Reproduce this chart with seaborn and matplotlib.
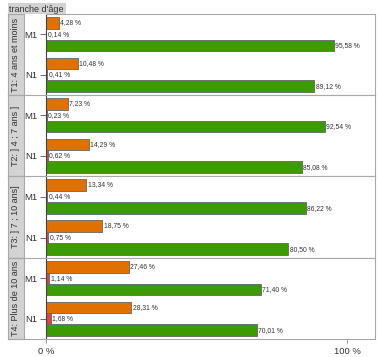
import matplotlib
matplotlib.use("Agg")
import matplotlib.pyplot as plt
import seaborn as sns
import pandas as pd

sns.set_theme(style="white")
plt.rcParams['font.family'] = ['Liberation Sans', 'DejaVu Sans']

tranches = ["T1: 4 ans et moins", "T2: ] 4 ; 7 ans ]", "T3: ] 7 ; 10 ans]", "T4: Plus de 10 ans"]
profils = ["M1", "N1"]
series = ["Série A", "Série B", "Série C"]
colors = ["#E07000", "#E8413C", "#3C9B00"]

serie_a = [[4.28, 10.48], [7.23, 14.29], [13.34, 18.75], [27.46, 28.31]]
serie_b = [[0.14, 0.41], [0.23, 0.62], [0.44, 0.75], [1.14, 1.68]]
serie_c = [[95.58, 89.12], [92.54, 85.08], [86.22, 80.50], [71.40, 70.01]]
header = "tranche d'âge"

rows = []
for ti, t in enumerate(tranches):
    for pi, p in enumerate(profils):
        for s, vals in zip(series, [serie_a, serie_b, serie_c]):
            rows.append({"tranche": t, "profil": p, "serie": s, "valeur": vals[ti][pi]})
df = pd.DataFrame(rows)

W, H = 380, 357
fig = plt.figure(figsize=(W / 100, H / 100), dpi=100)

def fx(px):
    return px / W

def fy(py):
    return 1 - py / H

tops = [14, 95, 176, 258]
bots = [95, 176, 258, 339]
left, right = 46, 375

def fmt(v):
    return f"{v:.2f}".replace(".", ",") + " %"

frame_col = "#a8a8a8"
for i, t in enumerate(tranches):
    ax = fig.add_axes([fx(left), fy(bots[i]), fx(right - left), (bots[i] - tops[i]) / H])
    sub = df[df["tranche"] == t]
    sns.barplot(data=sub, y="profil", x="valeur", hue="serie", orient="h",
                order=profils, hue_order=series, palette=colors, width=0.85,
                edgecolor="#666666", linewidth=0.6, ax=ax, legend=False,
                saturation=1)
    for c, s in zip(ax.containers, series):
        vals = sub[sub["serie"] == s].set_index("profil").loc[profils, "valeur"].tolist()
        ax.bar_label(c, labels=[fmt(v) for v in vals], padding=1, fontsize=4.9, color="#333333")
    ax.set_xlim(0, (right - left) / 3.01)
    ax.set_ylim(1.5, -0.5)
    ax.set_xlabel("")
    ax.set_ylabel("")
    ax.set_yticks([0, 1])
    ax.set_yticklabels(profils, fontsize=6.8, color="#333333")
    ax.tick_params(axis="y", length=4, width=0.6, color="#555555", pad=2, left=True)
    if i == 3:
        ax.set_xticks([0, 100])
        ax.set_xticklabels(["0 %", "100 %"], fontsize=6.8, color="#333333")
        ax.tick_params(axis="x", length=3, width=0.6, color="#888888", pad=3, bottom=True)
    else:
        ax.set_xticks([])
    for sp in ["top", "right", "bottom"]:
        ax.spines[sp].set_color(frame_col)
        ax.spines[sp].set_linewidth(0.8)
    ax.spines["left"].set_color("#444444")
    ax.spines["left"].set_linewidth(0.8)

    # strip
    sax = fig.add_axes([fx(8), fy(bots[i]), fx(16), (bots[i] - tops[i]) / H])
    sax.set_facecolor("#d3d3d3")
    sax.set_xticks([])
    sax.set_yticks([])
    for sp in sax.spines.values():
        sp.set_color(frame_col)
        sp.set_linewidth(0.8)
    sax.text(0.5, 0.5, t, rotation=90, ha="center", va="center", fontsize=6.5,
             color="#333333", transform=sax.transAxes)
    fig.add_artist(plt.Line2D([fx(8), fx(left)], [fy(bots[i]), fy(bots[i])],
                              color=frame_col, lw=0.8))

# header box
hax = fig.add_axes([fx(8), fy(14), fx(58), 11 / H])
hax.set_facecolor("#d3d3d3")
hax.set_xticks([])
hax.set_yticks([])
for sp in hax.spines.values():
    sp.set_visible(False)
hax.text(0.02, 0.45, header, ha="left", va="center", fontsize=6.5, color="#333333",
         transform=hax.transAxes)

fig.savefig("out.png", dpi=100)
